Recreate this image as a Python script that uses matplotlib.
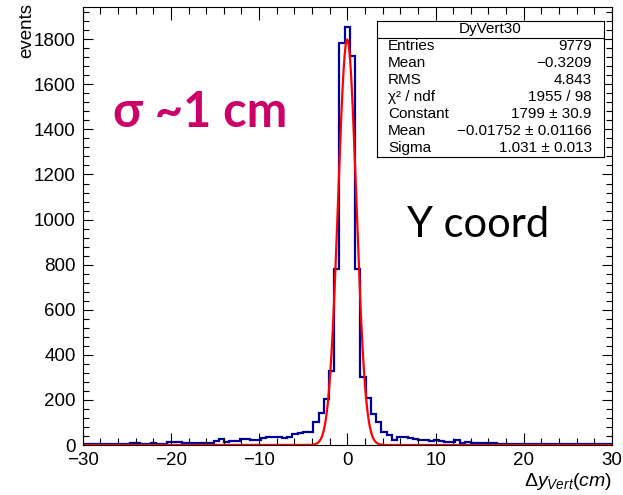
import numpy as np
import matplotlib
matplotlib.use("Agg")
import matplotlib.pyplot as plt
from matplotlib.ticker import MultipleLocator

plt.rcParams['font.family'] = ['Liberation Sans', 'DejaVu Sans']
plt.rcParams['mathtext.fontset'] = 'custom'
plt.rcParams['mathtext.rm'] = 'Liberation Sans'
plt.rcParams['mathtext.it'] = 'Liberation Sans:italic'

# histogram: 101 bins from -30 to 30
x_min, x_max, n_bins = -30.0, 30.0, 101
counts = [
    5, 4, 4, 4, 5, 4, 3, 4, 4, 9,
    10, 6, 6, 7, 6, 6, 12, 13, 12, 7,
    7, 10, 10, 11, 10, 18, 28, 13, 19, 19,
    25, 28, 22, 22, 33, 34, 34, 34, 32, 37,
    47, 55, 57, 58, 100, 144, 205, 330, 780, 1785,
    1855,
    1725, 780, 300, 207, 138, 100, 59, 44, 24, 34,
    34, 30, 28, 22, 22, 18, 22, 16, 14, 12,
    20, 10, 12, 9, 10, 8, 10, 7, 6, 5,
    6, 4, 5, 4, 6, 4, 5, 4, 3, 5,
    4, 5, 4, 3, 4, 5, 4, 3, 4, 4,
]

# gaussian fit parameters (from stats box)
fit_const = 1799.0
fit_mean = -0.01752
fit_sigma = 1.031

stat_labels = ["Entries", "Mean", "RMS", "\u03c7\u00b2 / ndf", "Constant", "Mean", "Sigma"]
stat_values = ["9779", "\u22120.3209", "4.843", "1955 / 98", "1799 \u00b1 30.9",
               "\u22120.01752 \u00b1 0.01166", "1.031 \u00b1 0.013"]
hist_name = "DyVert30"

W, H = 623, 495
fig = plt.figure(figsize=(W / 100, H / 100), dpi=100)
ax = fig.add_axes([82.7 / W, 50 / H, (612 - 82.7) / W, (445 - 7) / H])

edges = np.linspace(x_min, x_max, n_bins + 1)
ax.stairs(counts, edges, color='#000099', linewidth=1.6, baseline=0)

xf = np.linspace(x_min, x_max, 1201)
yf = fit_const * np.exp(-0.5 * ((xf - fit_mean) / fit_sigma) ** 2)
ax.plot(xf, yf, color='red', linewidth=1.6)

ax.set_xlim(x_min, x_max)
ax.set_ylim(0, 1943)
ax.xaxis.set_major_locator(MultipleLocator(10))
ax.xaxis.set_minor_locator(MultipleLocator(2))
ax.yaxis.set_major_locator(MultipleLocator(200))
ax.yaxis.set_minor_locator(MultipleLocator(40))
ax.tick_params(which='both', direction='in', top=True, right=True, width=0.8, labelsize=13.5)
ax.tick_params(axis='x', which='major', length=9, pad=5)
ax.tick_params(axis='x', which='minor', length=5)
ax.tick_params(axis='y', which='major', length=7, pad=5)
ax.tick_params(axis='y', which='minor', length=4)
for s in ax.spines.values():
    s.set_linewidth(0.8)

fig.text(35 / W, 1 - 3 / H, "events", rotation=90, ha='right', va='top', fontsize=13.5)
fig.text(612 / W, 1 - 486 / H, '$\\mathit{\u0394y}_{\\mathit{Vert}}\\mathit{(cm)}$',
         ha='right', va='baseline', fontsize=14)

# stats box
bx0, bx1, by0, by1 = 376.7, 603.5, 21, 156.7
sax = fig.add_axes([bx0 / W, 1 - by1 / H, (bx1 - bx0) / W, (by1 - by0) / H])
sax.set_xlim(0, 1)
sax.set_ylim(0, 8)
sax.set_xticks([])
sax.set_yticks([])
for s in sax.spines.values():
    s.set_linewidth(0.8)
sax.axhline(7, color='black', linewidth=0.8)
sax.text(0.5, 7.5, hist_name, ha='center', va='center', fontsize=11)
for i, (lab, val) in enumerate(zip(stat_labels, stat_values)):
    yy = 6.5 - i
    sax.text(0.05, yy, lab, ha='left', va='center', fontsize=11)
    sax.text(0.948, yy, val, ha='right', va='center', fontsize=11)

fig.text(113 / W, 1 - 127 / H, "\u03c3 ~1 cm", color='#cc0066', fontsize=35,
         fontweight='bold', family=['Lato', 'Noto Sans', 'DejaVu Sans'], ha='left', va='baseline')
fig.text(407 / W, 1 - 237 / H, "Y coord", color='black', fontsize=30,
         family=['Lato', 'Noto Sans', 'DejaVu Sans'], ha='left', va='baseline')

fig.savefig("out.png", dpi=100)
